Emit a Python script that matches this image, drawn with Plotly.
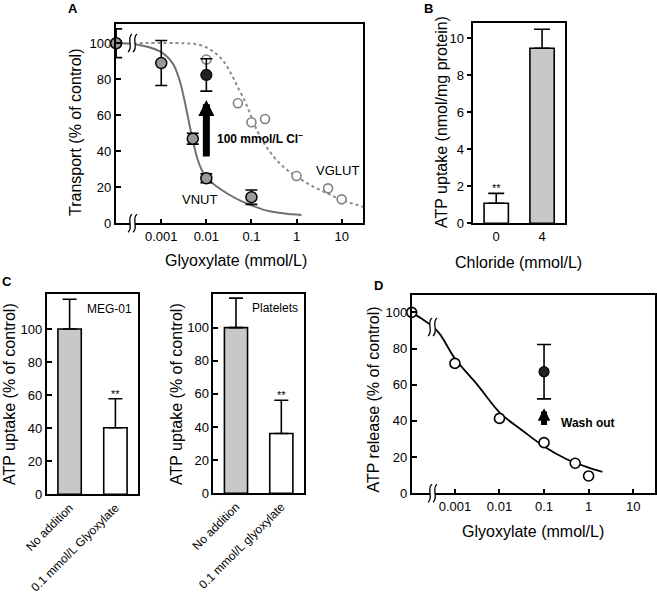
import plotly.graph_objects as go

W, H = 657, 594
FONT = "Liberation Sans, Arial, sans-serif"

# ---------------- data ----------------
# Panel A
A_vnut_x = [1e-4, 0.001, 0.005, 0.01, 0.1]
A_vnut_y = [100, 89, 47, 25, 14.5]
A_vnut_err = [8, 12.5, 3, 2.5, 4]
A_vglut_x = [0.01, 0.05, 0.1, 0.2, 1, 5, 10]
A_vglut_y = [91, 66.7, 56.1, 57.9, 26.3, 19.4, 13.3]
A_cl_x = [0.01]
A_cl_y = [82.4]
A_cl_err = [9]
A_vnut_fit_logx = [-4.0, -3.62, -3.03, -2.75, -2.6, -2.5, -2.4, -2.3, -2.2, -2.1, -2.0, -1.8, -1.5, -1.2, -1.0, -0.7, -0.4, -0.1, 0.11]
A_vnut_fit_y = [100, 99.6, 95.5, 89, 80, 70, 58, 46, 36, 29.5, 25.5, 21, 16, 12, 10, 7.3, 5.8, 5.0, 4.6]
A_vglut_fit_logx = [-3.62, -2.5, -2.14, -1.85, -1.62, -1.44, -1.29, -1.14, -1.03, -0.92, -0.77, -0.6, -0.4, -0.2, 0.0, 0.3, 0.67, 1.0, 1.48]
A_vglut_fit_y = [100, 100, 99, 95.5, 90, 82.5, 75, 67.5, 61, 54, 46.5, 40, 34, 29.5, 26, 21.3, 16.8, 13, 9.2]
A_ticks = [0.001, 0.01, 0.1, 1, 10]
A_ticktext = ["0.001", "0.01", "0.1", "1", "10"]

# Panel B
B_cats = ["0", "4"]
B_vals = [1.08, 9.46]
B_err = [0.54, 1.03]

# Panel C
C1_cats = ["No addition", "0.1 mmol/L Glyoxylate"]
C1_vals = [100, 40.3]
C1_err = [18, 17.5]
C2_cats = ["No addition", "0.1 mmol/L glyoxylate"]
C2_vals = [100, 36.1]
C2_err = [17.8, 20.1]

# Panel D
D_x = [10 ** -3.97, 0.001, 0.01, 0.1, 0.5, 1.0]
D_y = [100, 71.8, 41.4, 28, 16.6, 9.6]
D_wash_x = [0.1]
D_wash_y = [67.2]
D_wash_err = [15]
D_fit_logx = [-3.97, -3.76, -3.57, -3.35, -3.0, -2.49, -1.99, -1.48, -0.99, -0.49, 0.0, 0.31]
D_fit_y = [100, 96.7, 93.5, 88.4, 74.5, 59.8, 44.5, 34.6, 25.7, 18.8, 14.2, 11.9]


def fx(px):
    return px / W


def fy(py):
    return 1 - py / H


fig = go.Figure()

GRAY_BAR = "#c8c8c8"
ERR = dict(color="black", thickness=1.6)

# ---------- Panel A ----------
fig.add_trace(go.Scatter(x=[10 ** v for v in A_vglut_fit_logx], y=A_vglut_fit_y, mode="lines",
                         line=dict(color="#8c8c8c", width=2, dash="3px,3px", shape="spline", smoothing=1.0),
                         xaxis="x", yaxis="y", hoverinfo="skip"))
fig.add_trace(go.Scatter(x=[10 ** v for v in A_vnut_fit_logx], y=A_vnut_fit_y, mode="lines",
                         line=dict(color="#707070", width=2, shape="spline", smoothing=1.0),
                         xaxis="x", yaxis="y", hoverinfo="skip"))
fig.add_trace(go.Scatter(x=A_vglut_x, y=A_vglut_y, mode="markers",
                         marker=dict(size=9, color="white", line=dict(color="#808080", width=1.6)),
                         xaxis="x", yaxis="y"))
fig.add_trace(go.Scatter(x=A_vnut_x, y=A_vnut_y, mode="markers",
                         error_y=dict(type="data", array=A_vnut_err, width=6, **ERR),
                         marker=dict(size=11, color="#9a9a9a", line=dict(color="black", width=1.5)),
                         xaxis="x", yaxis="y", cliponaxis=False))
fig.add_trace(go.Scatter(x=A_cl_x, y=A_cl_y, mode="markers",
                         error_y=dict(type="data", array=A_cl_err, width=6, **ERR),
                         marker=dict(size=11, color="#222222", line=dict(color="black", width=1.2)),
                         xaxis="x", yaxis="y"))

# ---------- Panel B ----------
fig.add_trace(go.Bar(x=B_cats, y=B_vals, width=0.53,
                     marker=dict(color=["white", GRAY_BAR], line=dict(color="black", width=1.6)),
                     error_y=dict(type="data", array=B_err, arrayminus=[0, 0], symmetric=False, width=8, **ERR),
                     xaxis="x2", yaxis="y2"))

# ---------- Panel C ----------
fig.add_trace(go.Bar(x=C1_cats, y=C1_vals, width=0.51,
                     marker=dict(color=[GRAY_BAR, "white"], line=dict(color="black", width=1.6)),
                     error_y=dict(type="data", array=C1_err, arrayminus=[0, 0], symmetric=False, width=7, **ERR),
                     xaxis="x3", yaxis="y3"))
fig.add_trace(go.Bar(x=C2_cats, y=C2_vals, width=0.51,
                     marker=dict(color=[GRAY_BAR, "white"], line=dict(color="black", width=1.6)),
                     error_y=dict(type="data", array=C2_err, arrayminus=[0, 0], symmetric=False, width=7, **ERR),
                     xaxis="x4", yaxis="y4"))

# ---------- Panel D ----------
fig.add_trace(go.Scatter(x=[10 ** v for v in D_fit_logx], y=D_fit_y, mode="lines",
                         line=dict(color="black", width=1.8, shape="spline", smoothing=1.0),
                         xaxis="x5", yaxis="y5", hoverinfo="skip"))
fig.add_trace(go.Scatter(x=D_x, y=D_y, mode="markers",
                         marker=dict(size=10, color="white", line=dict(color="black", width=1.6)),
                         xaxis="x5", yaxis="y5", cliponaxis=False))
fig.add_trace(go.Scatter(x=D_wash_x, y=D_wash_y, mode="markers",
                         error_y=dict(type="data", array=D_wash_err, width=7, **ERR),
                         marker=dict(size=10, color="#222222", line=dict(color="black", width=1.2)),
                         xaxis="x5", yaxis="y5"))

tickfont = dict(family=FONT, size=13, color="black")
frame = dict(showline=True, mirror=True, linecolor="black", linewidth=1.6, showgrid=False, automargin=False,
             zeroline=False, tickfont=tickfont, ticklen=5, tickwidth=1.5, tickcolor="black")

fig.update_layout(
    width=W, height=H, margin=dict(l=0, r=0, t=0, b=0, autoexpand=False),
    paper_bgcolor="white", plot_bgcolor="white", showlegend=False,
    font=dict(family=FONT, color="black"),
    xaxis=dict(domain=[fx(115.7), fx(363.3)], type="log", range=[-4.01, 1.48], anchor="y",
               tickvals=A_ticks, ticktext=A_ticktext, ticks="inside", **frame),
    yaxis=dict(domain=[fy(223.3), fy(24)], range=[0, 110.7], anchor="x",
               tickvals=[0, 20, 40, 60, 80, 100], ticks="inside", **frame),
    xaxis2=dict(domain=[fx(473.3), fx(565)], range=[-0.5, 1.5], anchor="y2", ticks="", **frame),
    yaxis2=dict(domain=[fy(223.3), fy(23.3)], range=[0, 10.81], anchor="x2",
                tickvals=[0, 2, 4, 6, 8, 10], ticks="outside", **frame),
    xaxis3=dict(domain=[fx(46.7), fx(138.3)], range=[-0.5, 1.5], anchor="y3", ticks="", tickangle=-45,
                **{**frame, "tickfont": dict(family=FONT, size=12, color="black")}),
    yaxis3=dict(domain=[fy(494.3), fy(294)], range=[0, 121.2], anchor="x3",
                tickvals=[0, 20, 40, 60, 80, 100], ticks="inside", **frame),
    xaxis4=dict(domain=[fx(213.3), fx(304)], range=[-0.5, 1.5], anchor="y4", ticks="", tickangle=-45,
                **{**frame, "tickfont": dict(family=FONT, size=12, color="black")}),
    yaxis4=dict(domain=[fy(493.3), fy(294)], range=[0, 120.3], anchor="x4",
                tickvals=[0, 20, 40, 60, 80, 100], ticks="inside", **frame),
    xaxis5=dict(domain=[fx(411.7), fx(655)], type="log", range=[-3.97, 1.49], anchor="y5",
                tickvals=A_ticks, ticktext=A_ticktext, ticks="inside", **frame),
    yaxis5=dict(domain=[fy(493.3), fy(295)], range=[0, 109.6], anchor="x5",
                tickvals=[0, 20, 40, 60, 80, 100], ticks="inside", **frame),
)

ann = []


def text_px(x, y, s, size=16, angle=0, bold=False, xanchor="center"):
    ann.append(dict(x=fx(x), y=fy(y), xref="paper", yref="paper", text=("<b>%s</b>" % s) if bold else s,
                    showarrow=False, textangle=angle, xanchor=xanchor, yanchor="middle",
                    font=dict(family=FONT, size=size, color="black")))


# panel letters
text_px(73, 9, "A", 13, bold=True)
text_px(428, 9, "B", 13, bold=True)
text_px(6.5, 282, "C", 13, bold=True)
text_px(378, 285, "D", 13, bold=True)

# axis titles
text_px(75, 133, "Transport (% of control)", 16, angle=-90)
text_px(236, 260, "Glyoxylate (mmol/L)", 16)
text_px(441, 122, "ATP uptake (nmol/mg protein)", 16, angle=-90)
text_px(518, 263, "Chloride (mmol/L)", 16)
text_px(9, 394, "ATP uptake (% of control)", 16, angle=-90)
text_px(176, 394, "ATP uptake (% of control)", 16, angle=-90)
text_px(372.5, 400, "ATP release (% of control)", 16, angle=-90)
text_px(533, 531.7, "Glyoxylate (mmol/L)", 16)

# in-plot texts (data coordinates)
ann.append(dict(x=-1.81, y=47.6, xref="x", yref="y", text="<b>100 mmol/L Cl<sup>−</sup></b>", showarrow=False,
                xanchor="left", font=dict(family=FONT, size=12, color="black")))
ann.append(dict(x=-2.16, y=13.3, xref="x", yref="y", text="VNUT", showarrow=False,
                font=dict(family=FONT, size=13, color="black")))
ann.append(dict(x=0.90, y=29.6, xref="x", yref="y", text="VGLUT", showarrow=False,
                font=dict(family=FONT, size=13, color="black")))
ann.append(dict(x=-0.657, y=39, xref="x5", yref="y5", text="<b>Wash out</b>", showarrow=False,
                xanchor="left", font=dict(family=FONT, size=12, color="black")))
ann.append(dict(x=1, y=112, xref="x3 domain", yref="y3", text="MEG-01", showarrow=False, xanchor="right",
                xshift=-4, font=dict(family=FONT, size=12, color="black")))
ann.append(dict(x=1, y=112, xref="x4 domain", yref="y4", text="Platelets", showarrow=False, xanchor="right",
                xshift=-4, font=dict(family=FONT, size=12, color="black")))

# significance marks
ann.append(dict(x=B_cats[0], y=B_vals[0] + B_err[0], xref="x2", yref="y2", text="**", showarrow=False,
                yanchor="bottom", yshift=-3, font=dict(family=FONT, size=11, color="black")))
ann.append(dict(x=C1_cats[1], y=C1_vals[1] + C1_err[1], xref="x3", yref="y3", text="**", showarrow=False,
                yanchor="bottom", yshift=-3, font=dict(family=FONT, size=11, color="black")))
ann.append(dict(x=C2_cats[1], y=C2_vals[1] + C2_err[1], xref="x4", yref="y4", text="**", showarrow=False,
                yanchor="bottom", yshift=-3, font=dict(family=FONT, size=11, color="black")))

# arrows
ann.append(dict(x=-2, y=68.5, ax=-2, ay=32.4, xref="x", yref="y", axref="x", ayref="y", text=" ",
                showarrow=True, arrowhead=2, arrowwidth=7, arrowsize=0.46, arrowcolor="black"))
ann.append(dict(x=-1, y=47, ax=-1, ay=33, xref="x5", yref="y5", axref="x5", ayref="y5", text=" ",
                showarrow=True, arrowhead=2, arrowwidth=6, arrowsize=0.42, arrowcolor="black"))

fig.update_layout(annotations=ann)

# axis break marks
shapes = []


def brk(cx, cy, h=9):
    def s_curve(o):
        return (fx(cx + o + 2), fy(cy - h), fx(cx + o - 4), fy(cy - h / 2), fx(cx + o + 4), fy(cy + h / 2),
                fx(cx + o - 2), fy(cy + h))
    a = s_curve(-2.5)
    b = s_curve(2.5)
    fill = ("M %f,%f C %f,%f %f,%f %f,%f " % a +
            "L %f,%f C %f,%f %f,%f %f,%f Z" % (b[6], b[7], b[4], b[5], b[2], b[3], b[0], b[1]))
    shapes.append(dict(type="path", xref="paper", yref="paper", path=fill, fillcolor="white",
                       line=dict(width=0), layer="above"))
    for c in (a, b):
        shapes.append(dict(type="path", xref="paper", yref="paper",
                           path="M %f,%f C %f,%f %f,%f %f,%f" % c,
                           line=dict(color="black", width=1.3), layer="above"))


brk(132.5, 43)
brk(132.5, 223.3)
brk(432.5, 327)
brk(432.5, 493.3)
fig.update_layout(shapes=shapes)

fig.write_html("out.html", config={"displayModeBar": False},
               post_script="document.body.style.margin='0px';")
